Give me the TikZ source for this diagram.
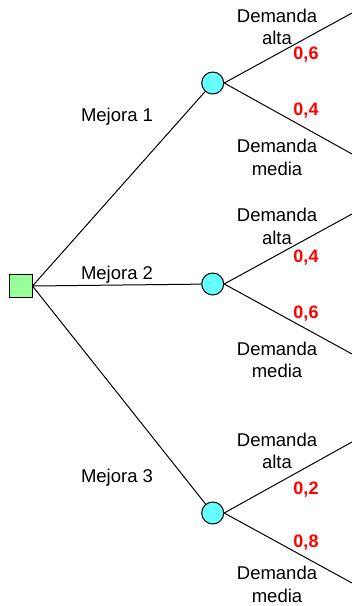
\documentclass[tikz,border=0pt]{standalone}
\usepackage{fontspec}
\setmainfont{Liberation Sans}
\definecolor{chancefill}{RGB}{102,255,255}
\definecolor{decfill}{RGB}{153,255,153}
\begin{document}
\begin{tikzpicture}[x=1pt,y=-1pt,
  decision/.style={draw=black,fill=decfill,minimum size=23pt,inner sep=0pt,line width=1pt},
  chance/.style={draw=black,fill=chancefill,circle,minimum size=22pt,inner sep=0pt,line width=1pt},
  branch/.style={line width=1pt},
  lbl/.style={font=\fontsize{18.5}{22.5}\selectfont,align=center,inner sep=0pt},
  prob/.style={font=\fontsize{18}{22}\selectfont\bfseries,text=red,inner sep=0pt}]
\useasboundingbox (0,0) rectangle (352,606);
\node[decision] (d) at (20.5,286) {};
\node[chance] (c1) at (212.7,83) {};
\node[chance] (c2) at (212.7,284) {};
\node[chance] (c3) at (212.7,513) {};
\coordinate (e1) at (352,13);
\coordinate (e2) at (352,154);
\coordinate (e3) at (352,214);
\coordinate (e4) at (352,354);
\coordinate (e5) at (352,442);
\coordinate (e6) at (352,583);
\draw[branch] (d.east) -- (c1);
\draw[branch] (d.east) -- (c2);
\draw[branch] (d.east) -- (c3);
\draw[branch] (c1.east) -- (e1);
\draw[branch] (c1.east) -- (e2);
\draw[branch] (c2.east) -- (e3);
\draw[branch] (c2.east) -- (e4);
\draw[branch] (c3.east) -- (e5);
\draw[branch] (c3.east) -- (e6);
\node[lbl] (m1) at (117,117) {Mejora 1};
\node[lbl] (m2) at (117,275) {Mejora 2};
\node[lbl] (m3) at (117,478) {Mejora 3};
\node[lbl] (a1) at (277,27) {Demanda\\alta};
\node[lbl] (b1) at (277,157.5) {Demanda\\media};
\node[lbl] (a2) at (277,226.5) {Demanda\\alta};
\node[lbl] (b2) at (277,360) {Demanda\\media};
\node[lbl] (a3) at (277,451) {Demanda\\alta};
\node[lbl] (b3) at (277,584.5) {Demanda\\media};
\node[prob] (p1) at (306,55) {0,6};
\node[prob] (p2) at (306,111) {0,4};
\node[prob] (p3) at (306,258) {0,4};
\node[prob] (p4) at (306,314) {0,6};
\node[prob] (p5) at (306,490) {0,2};
\node[prob] (p6) at (306,543) {0,8};
\end{tikzpicture}
\end{document}
